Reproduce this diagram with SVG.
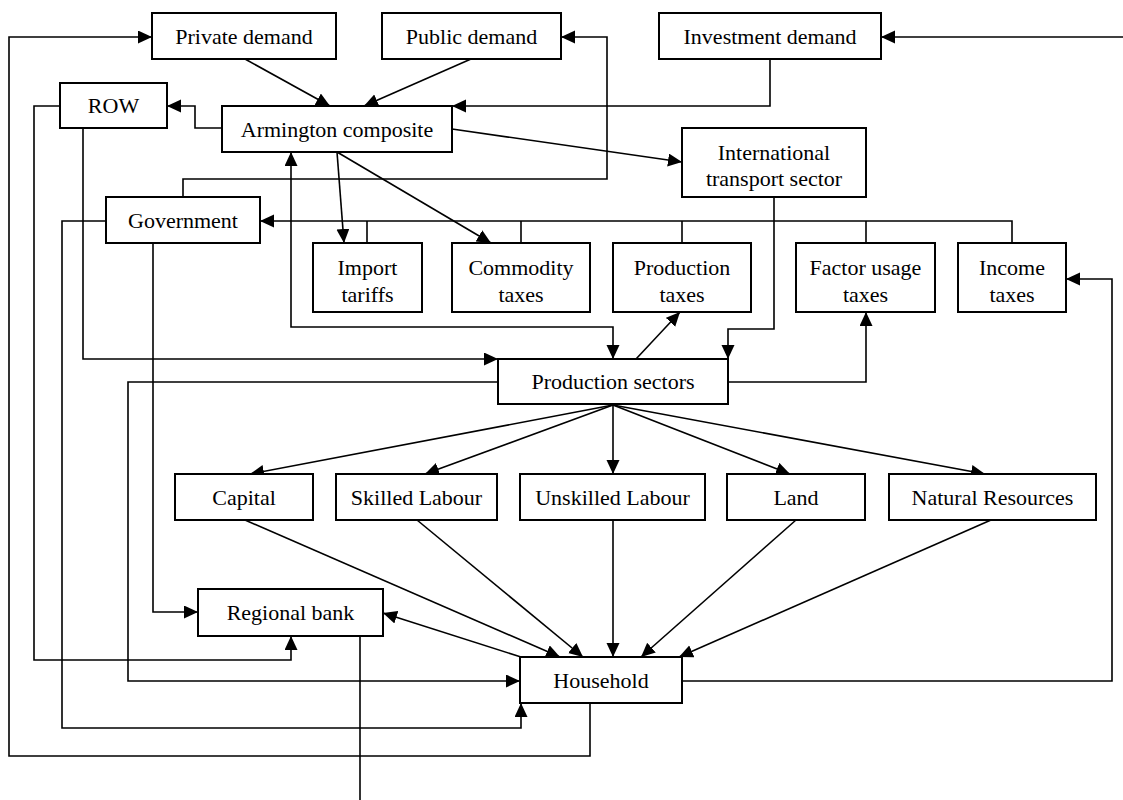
<svg xmlns="http://www.w3.org/2000/svg" width="1123" height="800" viewBox="0 0 1123 800">
<style>
.box{fill:#fff;stroke:#000;stroke-width:2}
.t{font-family:"Liberation Serif","Times New Roman",serif;font-size:22px;fill:#000;text-anchor:middle}
.c{fill:none;stroke:#000;stroke-width:1.6}
.a{marker-end:url(#ah)}
.b{marker-start:url(#ah);marker-end:url(#ah)}
</style>
<defs>
<marker id="ah" markerUnits="userSpaceOnUse" markerWidth="15" markerHeight="14" refX="14" refY="6.5" orient="auto-start-reverse">
<path d="M0,0 L14,6.5 L0,13 z" fill="#000"/>
</marker>
</defs>
<rect width="1123" height="800" fill="#fff"/>
<g id="connectors">
<path class="c a" d="M590,703 V756 H9 V37 H152"/>
<path class="c a" d="M183,197 V179 H607 V37 H561"/>
<path class="c a" d="M1123,37 H881"/>
<path class="c a" d="M245,59 L330,106"/>
<path class="c a" d="M471,59 L364,106"/>
<path class="c a" d="M770,59 V106 H452"/>
<path class="c a" d="M222,128 H195 V106 H167"/>
<path class="c a" d="M452,129 L682,162"/>
<path class="c a" d="M60,106 H34 V660 H291 V636"/>
<path class="c a" d="M83,128 V359 H498"/>
<path class="c a" d="M337,152 L344,243"/>
<path class="c a" d="M337,152 L491,243"/>
<path class="c b" d="M291,152 V327 H613 V359"/>
<path class="c a" d="M1012,243 V221 H260"/>
<path class="c" d="M367,243 V221 M521,243 V221 M682,243 V221 M866,243 V221"/>
<path class="c a" d="M774,197 V329 H728 V359"/>
<path class="c a" d="M636,359 L680,312"/>
<path class="c a" d="M728,382 H866 V312"/>
<path class="c a" d="M682,681 H1112 V279 H1066"/>
<path class="c a" d="M498,382 H128 V681 H520"/>
<path class="c a" d="M106,221 H62 V728 H521 V703"/>
<path class="c a" d="M153,243 V612 H198"/>
<path class="c a" d="M521,657 L383,613"/>
<path class="c" d="M360,636 V800"/>
<path class="c a" d="M613,405 L250,474"/>
<path class="c a" d="M613,405 L425,474"/>
<path class="c a" d="M613,405 L613,474"/>
<path class="c a" d="M613,405 L790,474"/>
<path class="c a" d="M613,405 L985,474"/>
<path class="c a" d="M245,520 L560,657"/>
<path class="c a" d="M417,520 L583,657"/>
<path class="c a" d="M613,520 L613,657"/>
<path class="c a" d="M796,520 L641,657"/>
<path class="c a" d="M991,520 L679,657"/>
</g>
<g id="private-demand"><rect class="box" x="152" y="13" width="184" height="46"/><text class="t" x="244" y="44">Private demand</text></g>
<g id="public-demand"><rect class="box" x="382" y="13" width="179" height="46"/><text class="t" x="471.5" y="44">Public demand</text></g>
<g id="investment-demand"><rect class="box" x="659" y="13" width="222" height="46"/><text class="t" x="770" y="44">Investment demand</text></g>
<g id="row"><rect class="box" x="60" y="83" width="107" height="45"/><text class="t" x="113.5" y="113">ROW</text></g>
<g id="armington"><rect class="box" x="222" y="106" width="230" height="46"/><text class="t" x="337" y="137">Armington composite</text></g>
<g id="intl-transport"><rect class="box" x="682" y="128" width="184" height="69"/><text class="t" x="774" y="160">International</text><text class="t" x="774" y="186">transport sector</text></g>
<g id="government"><rect class="box" x="106" y="197" width="154" height="46"/><text class="t" x="183" y="228">Government</text></g>
<g id="import-tariffs"><rect class="box" x="313" y="243" width="109" height="69"/><text class="t" x="367.5" y="275">Import</text><text class="t" x="367.5" y="302">tariffs</text></g>
<g id="commodity-taxes"><rect class="box" x="452" y="243" width="138" height="69"/><text class="t" x="521" y="275">Commodity</text><text class="t" x="521" y="302">taxes</text></g>
<g id="production-taxes"><rect class="box" x="613" y="243" width="138" height="69"/><text class="t" x="682" y="275">Production</text><text class="t" x="682" y="302">taxes</text></g>
<g id="factor-usage-taxes"><rect class="box" x="796" y="243" width="139" height="69"/><text class="t" x="865.5" y="275">Factor usage</text><text class="t" x="865.5" y="302">taxes</text></g>
<g id="income-taxes"><rect class="box" x="958" y="243" width="108" height="69"/><text class="t" x="1012" y="275">Income</text><text class="t" x="1012" y="302">taxes</text></g>
<g id="production-sectors"><rect class="box" x="498" y="359" width="230" height="45"/><text class="t" x="613" y="389">Production sectors</text></g>
<g id="capital"><rect class="box" x="175" y="474" width="138" height="46"/><text class="t" x="244" y="505">Capital</text></g>
<g id="skilled-labour"><rect class="box" x="336" y="474" width="161" height="46"/><text class="t" x="416.5" y="505">Skilled Labour</text></g>
<g id="unskilled-labour"><rect class="box" x="520" y="474" width="185" height="46"/><text class="t" x="612.5" y="505">Unskilled Labour</text></g>
<g id="land"><rect class="box" x="727" y="474" width="138" height="46"/><text class="t" x="796" y="505">Land</text></g>
<g id="natural-resources"><rect class="box" x="889" y="474" width="207" height="46"/><text class="t" x="992.5" y="505">Natural Resources</text></g>
<g id="regional-bank"><rect class="box" x="198" y="589" width="185" height="47"/><text class="t" x="290.5" y="620">Regional bank</text></g>
<g id="household"><rect class="box" x="520" y="657" width="162" height="46"/><text class="t" x="601" y="688">Household</text></g>
</svg>
